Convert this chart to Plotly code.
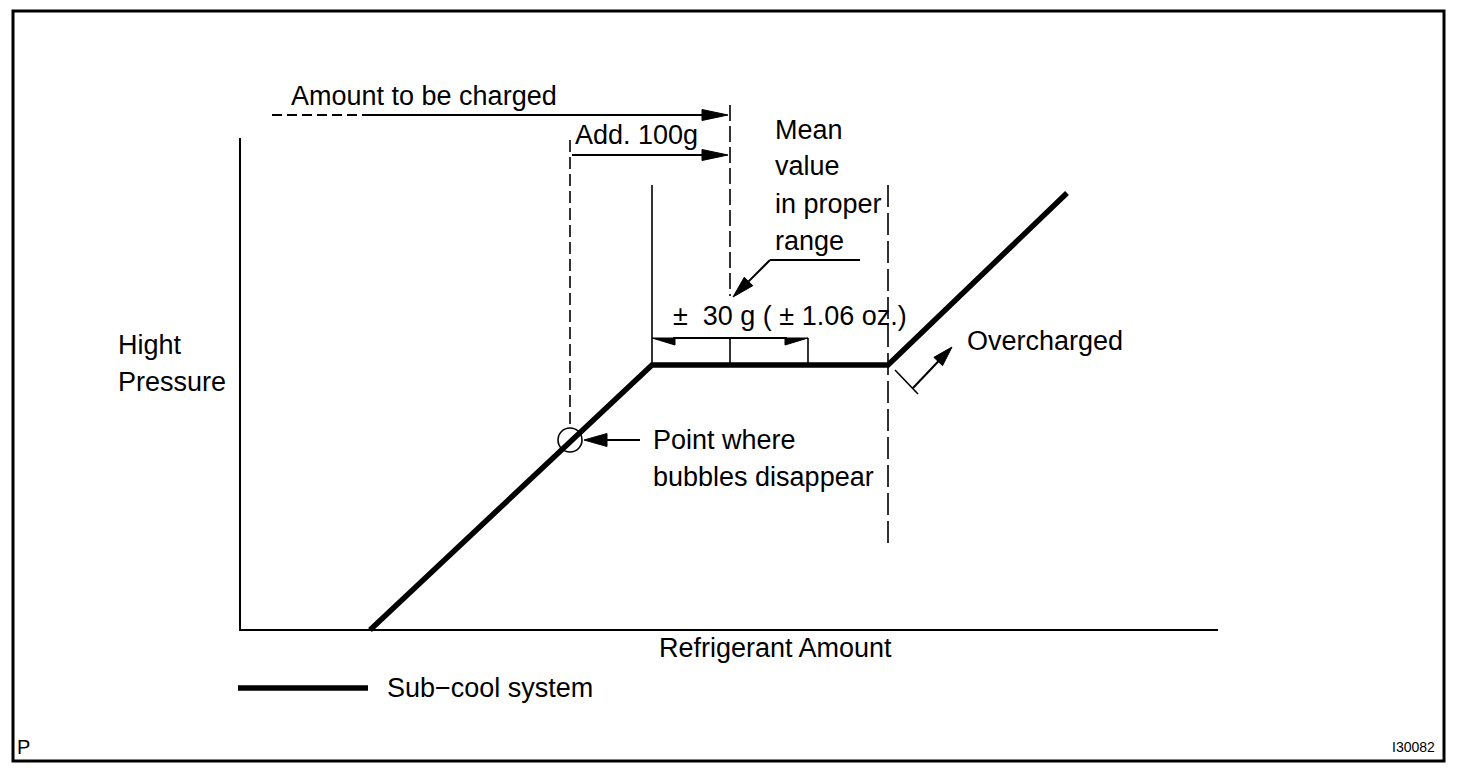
import math
import plotly.graph_objects as go

# ---- Data (positions, in its pixel frame) ----
curve_x = [370, 652, 888, 1067]          # Sub-cool system curve
curve_y = [630, 365, 365, 193]
axis_x = [240, 240, 1218]                 # High pressure / refrigerant axes
axis_y = [138, 630, 630]
legend_x = [238, 368]
legend_y = [688, 688]

labels = [
    # text, x, y, size, anchor
    ("Amount to be charged", 289, 96, 27, "left"),
    ("Add. 100g", 573, 135, 27, "left"),
    ("Mean", 773, 130, 27, "left"),
    ("value", 773, 166, 27, "left"),
    ("in proper", 773, 204, 27, "left"),
    ("range", 773, 241, 27, "left"),
    ("\u00b1  30 g ( \u00b1 1.06 oz.)", 671, 316, 27, "left"),
    ("Hight", 116, 345, 27, "left"),
    ("Pressure", 116, 382, 27, "left"),
    ("Overcharged", 965, 341, 27, "left"),
    ("Point where", 651, 440, 27, "left"),
    ("bubbles disappear", 651, 477, 27, "left"),
    ("Refrigerant Amount", 775, 648, 27, "center"),
    ("Sub\u2212cool system", 385, 688, 27, "left"),
    ("P", 15, 747, 20, "left"),
    ("I30082", 1437, 747, 14, "right"),
]

# arrows: tail x, tail y, tip x, tip y, head length, head half width, half-head
arrows = [
    (370, 115, 728, 115, 26, 5.5, False),
    (572, 155, 728, 155, 26, 5.5, False),
    (770, 260, 733, 297, 22, 6, False),
    (640, 440, 584, 440, 23, 6.5, False),
    (913, 388, 952, 347, 20, 6, False),
    (730, 338, 652, 338, 23, 7, True),
    (730, 338, 808, 338, 23, 7, True),
]

# plain lines: x0, y0, x1, y1, width, dash
lines = [
    (272, 115, 370, 115, 2, "10px,5px"),
    (860, 260, 770, 260, 2, "solid"),
    (730, 105, 730, 296, 1.6, "16px,5px"),
    (570, 140, 570, 428, 1.6, "12px,5px"),
    (652, 185, 652, 363, 1.6, "solid"),
    (888, 185, 888, 545, 1.6, "22px,6px"),
    (730, 338, 730, 364, 1.6, "solid"),
    (808, 338, 808, 364, 1.6, "solid"),
    (895, 370, 918, 394, 1.6, "solid"),
]

circle = (570, 440, 12)
frame = (13, 11, 1444, 761)

FONT = "Liberation Sans, Arial, Helvetica, sans-serif"

fig = go.Figure()

fig.add_trace(go.Scatter(x=curve_x, y=curve_y, mode="lines",
                         line=dict(color="black", width=5.5),
                         hoverinfo="skip", showlegend=False))
fig.add_trace(go.Scatter(x=axis_x, y=axis_y, mode="lines",
                         line=dict(color="black", width=2),
                         hoverinfo="skip", showlegend=False))
fig.add_trace(go.Scatter(x=legend_x, y=legend_y, mode="lines",
                         line=dict(color="black", width=5.5),
                         hoverinfo="skip", showlegend=False))

shapes = []
shapes.append(dict(type="rect", x0=frame[0], y0=frame[1], x1=frame[2], y1=frame[3],
                   line=dict(color="black", width=3), xref="x", yref="y"))

for x0, y0, x1, y1, w, d in lines:
    shapes.append(dict(type="line", x0=x0, y0=y0, x1=x1, y1=y1, xref="x", yref="y",
                       line=dict(color="black", width=w, dash=d)))

for tx, ty, hx, hy, L, W, half in arrows:
    dx, dy = hx - tx, hy - ty
    n = math.hypot(dx, dy)
    ux, uy = dx / n, dy / n
    bx, by = hx - ux * L, hy - uy * L
    px, py = -uy, ux
    # shaft
    shapes.append(dict(type="line", x0=tx, y0=ty, x1=bx + ux * 2, y1=by + uy * 2,
                       xref="x", yref="y", line=dict(color="black", width=2)))
    if half:
        # half head hanging below the line
        path = f"M {hx},{hy} L {bx},{by} L {bx},{by + W} Z"
    else:
        path = (f"M {hx},{hy} L {bx + px * W},{by + py * W} "
                f"L {bx - px * W},{by - py * W} Z")
    shapes.append(dict(type="path", path=path, xref="x", yref="y",
                       fillcolor="black", line=dict(color="black", width=1)))

cx, cy, r = circle
shapes.append(dict(type="circle", x0=cx - r, y0=cy - r, x1=cx + r, y1=cy + r,
                   xref="x", yref="y", line=dict(color="black", width=1.6)))

annotations = []
for t, x, y, s, a in labels:
    annotations.append(dict(text=t, x=x, y=y, xref="x", yref="y", showarrow=False,
                            xanchor=a, yanchor="middle",
                            font=dict(family=FONT, size=s, color="black")))

fig.update_layout(
    width=1472, height=774,
    margin=dict(l=0, r=0, t=0, b=0),
    paper_bgcolor="white", plot_bgcolor="white",
    xaxis=dict(range=[0, 1472], visible=False, fixedrange=True),
    yaxis=dict(range=[774, 0], visible=False, fixedrange=True),
    shapes=shapes, annotations=annotations,
    showlegend=False,
)

fig.write_html("out.html", config=dict(displayModeBar=False, staticPlot=True),
               post_script="document.body.style.margin='0';document.body.style.overflow='hidden';")
